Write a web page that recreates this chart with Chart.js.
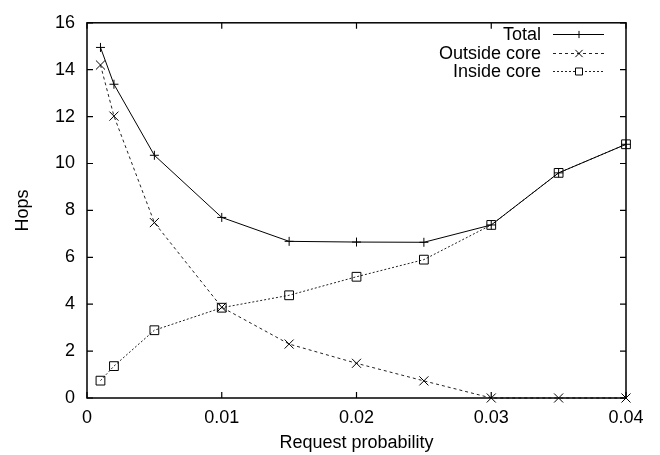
<!DOCTYPE html>
<html>
<head>
<meta charset="utf-8">
<script src="https://cdn.jsdelivr.net/npm/chart.js@4.4.0/dist/chart.umd.min.js"></script>
<style>
  html, body { margin: 0; padding: 0; background: #fff; }
  #wrap { width: 660px; height: 455px; }
</style>
</head>
<body>
<div id="wrap"><canvas id="hopsChart" width="660" height="455"></canvas></div>
<script>
// request probability on x, hop count on y
const probs = [0.001, 0.002, 0.005, 0.01, 0.015, 0.02, 0.025, 0.03, 0.035, 0.04];
const totalHops = [14.95, 13.38, 10.35, 7.7, 6.68, 6.65, 6.64, 7.38, 9.6, 10.82];
const outsideHops = [14.2, 12.02, 7.48, 3.87, 2.3, 1.48, 0.73, 0.0, 0.0, 0.0];
const insideHops = [0.74, 1.36, 2.89, 3.85, 4.38, 5.17, 5.9, 7.38, 9.6, 10.82];

const xTicks = [0, 0.01, 0.02, 0.03, 0.04];
const yTicks = [0, 2, 4, 6, 8, 10, 12, 14, 16];

const FONT = 'Liberation Sans, Arial, Helvetica, sans-serif';

function toPoints(ys) {
  return probs.map((p, i) => ({ x: p, y: ys[i] }));
}

const series = [
  { label: 'Total', data: totalHops, dash: [], style: 'cross', r: 4.5 },
  { label: 'Outside core', data: outsideHops, dash: [3, 3], style: 'crossRot', r: 6.4 },
  { label: 'Inside core', data: insideHops, dash: [2, 2], style: 'rect', r: 6.2 }
];

// box around the plot with inward ticks on all four sides
const frame = {
  id: 'frame',
  afterDatasetsDraw(chart) {
    const { ctx, chartArea: a, scales } = chart;
    ctx.save();
    ctx.strokeStyle = '#000';
    ctx.lineWidth = 1.5;
    ctx.strokeRect(a.left, a.top, a.right - a.left, a.bottom - a.top);
    ctx.lineWidth = 1.2;
    ctx.beginPath();
    xTicks.forEach(v => {
      const x = scales.x.getPixelForValue(v);
      ctx.moveTo(x, a.bottom); ctx.lineTo(x, a.bottom - 6);
      ctx.moveTo(x, a.top); ctx.lineTo(x, a.top + 6);
    });
    yTicks.forEach(v => {
      const y = scales.y.getPixelForValue(v);
      ctx.moveTo(a.left, y); ctx.lineTo(a.left + 6, y);
      ctx.moveTo(a.right, y); ctx.lineTo(a.right - 6, y);
    });
    ctx.stroke();
    ctx.restore();
  }
};

// key in the top right corner: text, then a line sample with its marker
const keyBox = {
  id: 'keyBox',
  afterDraw(chart) {
    const { ctx } = chart;
    const textRight = 541, x0 = 553, x1 = 604, mx = 579;
    const rows = [34, 53, 71];
    ctx.save();
    ctx.font = '18px ' + FONT;
    ctx.textAlign = 'right';
    ctx.textBaseline = 'middle';
    chart.data.datasets.forEach((ds, i) => {
      const y = rows[i];
      ctx.fillStyle = '#000';
      ctx.fillText(ds.label, textRight, y + 1);
      ctx.strokeStyle = ds.borderColor;
      ctx.lineWidth = 1;
      ctx.setLineDash(ds.borderDash);
      ctx.beginPath();
      ctx.moveTo(x0, y + 0.5); ctx.lineTo(x1, y + 0.5);
      ctx.stroke();
      ctx.setLineDash([]);
      ctx.fillStyle = '#fff';
      ctx.strokeStyle = '#000';
      Chart.helpers.drawPoint(ctx, {
        pointStyle: ds.pointStyle, radius: ds.pointRadius * 0.8, borderWidth: 1
      }, mx, y + 0.5);
    });
    ctx.restore();
  }
};

const ctx = document.getElementById('hopsChart').getContext('2d');
const hopsChart = new Chart(ctx, {
  type: 'line',
  data: {
    datasets: series.map(s => ({
      label: s.label,
      data: toPoints(s.data),
      borderColor: s.dash.length ? '#222' : '#000',
      borderWidth: 1,
      borderDash: s.dash,
      pointStyle: s.style,
      pointRadius: s.r,
      pointHoverRadius: s.r,
      pointBorderWidth: 1,
      pointBorderColor: '#000',
      pointBackgroundColor: 'rgba(0,0,0,0)',
      tension: 0,
      fill: false,
      clip: false
    }))
  },
  options: {
    responsive: false,
    animation: false,
    events: [],
    layout: { padding: { left: 0, right: 34, top: 17, bottom: 0 } },
    plugins: {
      legend: { display: false },
      tooltip: { enabled: false }
    },
    scales: {
      x: {
        type: 'linear',
        min: 0,
        max: 0.04,
        afterFit(scale) { scale.height = 57; },
        afterBuildTicks(scale) { scale.ticks = xTicks.map(v => ({ value: v })); },
        grid: { display: false, drawTicks: false },
        border: { display: false },
        ticks: {
          padding: 9,
          color: '#000',
          font: { family: FONT, size: 18 },
          callback: v => String(v)
        },
        title: {
          display: true,
          text: 'Request probability',
          color: '#000',
          font: { family: FONT, size: 18 },
          padding: { top: 0, bottom: 1 }
        }
      },
      y: {
        min: 0,
        max: 16,
        afterFit(scale) { scale.width = 87; },
        afterBuildTicks(scale) { scale.ticks = yTicks.map(v => ({ value: v })); },
        grid: { display: false, drawTicks: false },
        border: { display: false },
        ticks: {
          padding: 12,
          color: '#000',
          font: { family: FONT, size: 18 }
        },
        title: {
          display: true,
          text: 'Hops',
          color: '#000',
          font: { family: FONT, size: 18 },
          padding: { top: 12, bottom: 0 }
        }
      }
    }
  },
  plugins: [frame, keyBox]
});
</script>
</body>
</html>
